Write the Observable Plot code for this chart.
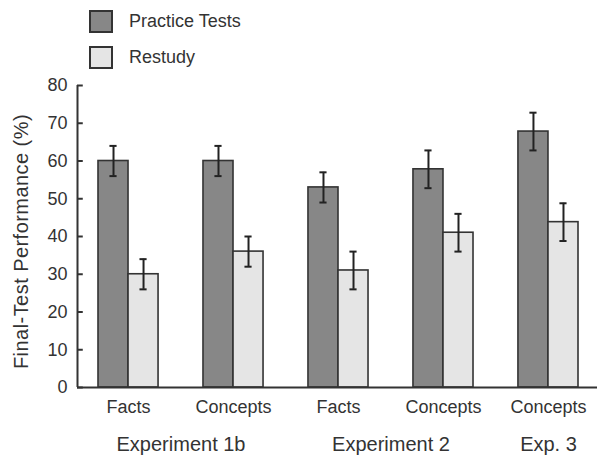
<!DOCTYPE html>
<html>
<head>
<meta charset="utf-8">
<script src="https://cdn.jsdelivr.net/npm/d3@7"></script>
<script src="https://cdn.jsdelivr.net/npm/@observablehq/plot@0.6"></script>
<style>
  html, body { margin: 0; padding: 0; background: #fff; }
  #wrap { width: 597px; height: 455px; position: relative; font-family: "Liberation Sans", Arial, sans-serif; color: #333; }
  #legend { position: relative; height: 75px; }
  .item { position: absolute; left: 89px; display: flex; align-items: center; font-size: 18px; }
  .sw { width: 20px; height: 19px; border: 2px solid #333; margin-right: 16px; }
</style>
</head>
<body>
<div id="wrap">
  <div id="legend"></div>
  <div id="chart"></div>
</div>
<script>
// ---- data ----
const categories = ["Facts", "Concepts", "Facts", "Concepts", "Concepts"];
const experiments = ["Experiment 1b", "Experiment 1b", "Experiment 2", "Experiment 2", "Exp. 3"];
const practiceTests = [60, 60, 53, 57.8, 67.8];
const practiceErr = [4, 4, 4, 5, 5];
const restudy = [30, 36, 31, 41, 43.8];
const restudyErr = [4, 4, 5, 5, 5];
const seriesNames = ["Practice Tests", "Restudy"];
const seriesColors = ["#878787", "#e5e5e5"];
const yTicks = [0, 10, 20, 30, 40, 50, 60, 70, 80];
const yLabel = "Final-Test Performance (%)";

// ---- table ----
const barW = 0.286; // bar width in group-index units
const rows = [];
categories.forEach((c, i) => {
  rows.push({i, series: seriesNames[0], value: practiceTests[i], err: practiceErr[i], x1: i - barW, x2: i});
  rows.push({i, series: seriesNames[1], value: restudy[i], err: restudyErr[i], x1: i, x2: i + barW});
});
rows.forEach(r => { r.xc = (r.x1 + r.x2) / 2; });

// experiment label positions = mean of group indices
const expNames = [...new Set(experiments)];
const expPos = expNames.map(e => d3.mean(experiments.map((x, i) => x === e ? i : null).filter(v => v !== null)));

const xDomain = [-0.486, 4.467];
const capHalf = 0.034;
const tickLen = 0.055;

// legend
const legend = document.getElementById("legend");
seriesNames.forEach((s, k) => {
  const d = document.createElement("div");
  d.className = "item";
  d.style.top = (10 + k * 36) + "px";
  d.innerHTML = `<div class="sw" style="background:${seriesColors[k]}"></div><span>${s}</span>`;
  legend.appendChild(d);
});

const plot = Plot.plot({
  width: 597,
  height: 380,
  marginTop: 10,
  marginBottom: 68,
  marginLeft: 77,
  marginRight: 0,
  style: {fontFamily: "'Liberation Sans', Arial, sans-serif", color: "#333", background: "#fff"},
  x: {domain: xDomain, axis: null},
  y: {domain: [0, 80], axis: null},
  color: {domain: seriesNames, range: seriesColors},
  marks: [
    Plot.rect(rows, {x1: "x1", x2: "x2", y1: 0, y2: "value", fill: "series", stroke: "#333", strokeWidth: 1.6}),
    Plot.ruleX(rows, {x: "xc", y1: d => d.value - d.err, y2: d => d.value + d.err, stroke: "#222", strokeWidth: 2}),
    Plot.ruleY(rows, {y: d => d.value + d.err, x1: d => d.xc - capHalf, x2: d => d.xc + capHalf, stroke: "#222", strokeWidth: 2}),
    Plot.ruleY(rows, {y: d => d.value - d.err, x1: d => d.xc - capHalf, x2: d => d.xc + capHalf, stroke: "#222", strokeWidth: 2}),
    Plot.ruleY([0], {stroke: "#333", strokeWidth: 2}),
    Plot.ruleX([xDomain[0]], {y1: 0, y2: 80, stroke: "#333", strokeWidth: 2}),
    Plot.ruleY(yTicks, {x1: xDomain[0], x2: xDomain[0] + tickLen, stroke: "#333", strokeWidth: 2}),
    Plot.axisY({ticks: yTicks, tickSize: 0, tickPadding: 10, fontSize: 18, fill: "#333", label: null}),
    Plot.text([yLabel], {frameAnchor: "left", rotate: -90, dx: -56, dy: 5, fontSize: 20, fill: "#333",
      textAnchor: "middle", lineAnchor: "middle", className: "ylab"}),
    Plot.axisX(categories.map((c, i) => i), {tickSize: 0, tickPadding: 13, fontSize: 18, fill: "#333",
      tickFormat: i => categories[i], label: null}),
    Plot.axisX(expPos, {tickSize: 0, tickPadding: 49, fontSize: 20, fill: "#333",
      tickFormat: (d, k) => expNames[k], label: null})
  ]
});
d3.select(plot).selectAll(".ylab text").style("letter-spacing", "0.45px");
document.getElementById("chart").appendChild(plot);
</script>
</body>
</html>
